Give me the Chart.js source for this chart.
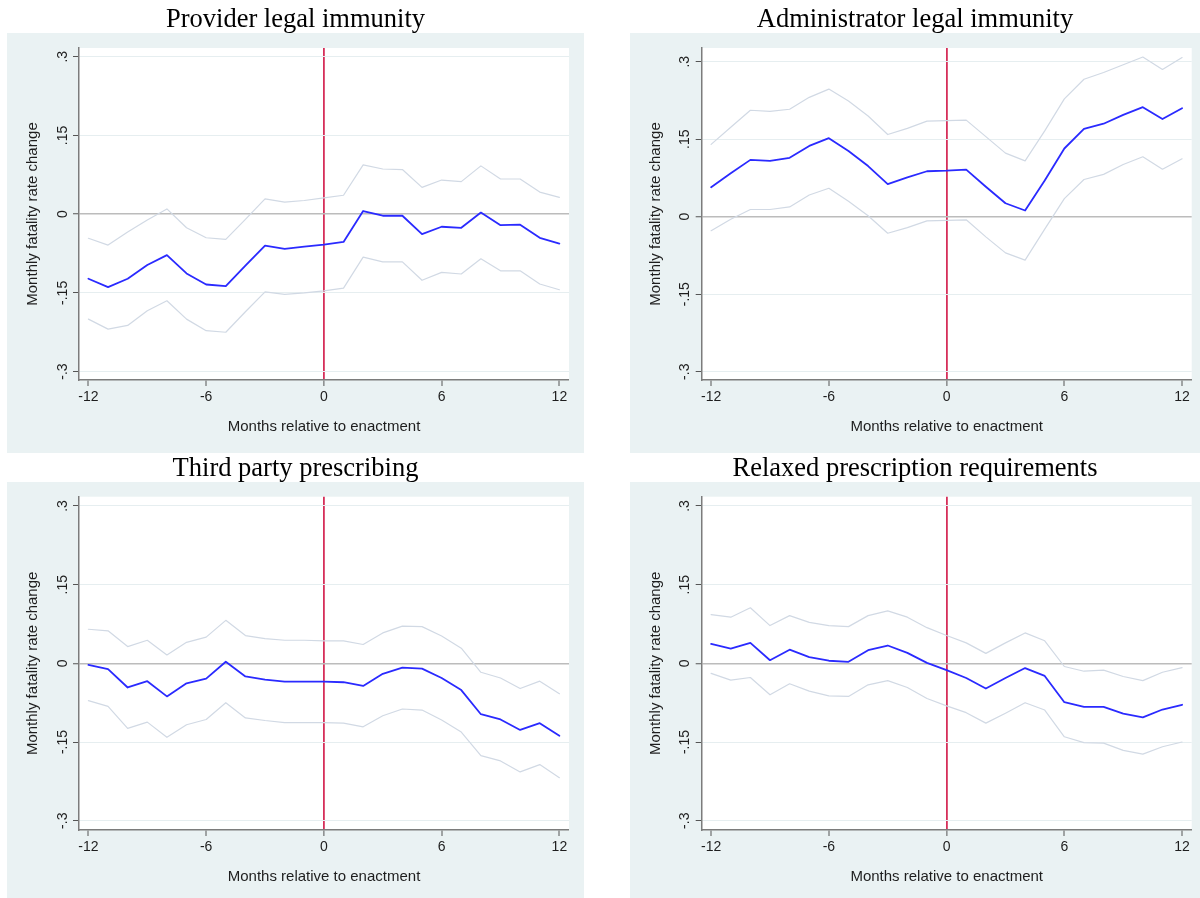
<!DOCTYPE html>
<html>
<head>
<meta charset="utf-8">
<script src="https://cdn.jsdelivr.net/npm/chart.js@4.4.1/dist/chart.umd.min.js"></script>
<style>
  html, body { margin: 0; padding: 0; background: #ffffff; }
  #wrap { position: relative; width: 1200px; height: 898px; overflow: hidden; }
  #wrap canvas { position: absolute; }
  .ttl {
    position: absolute;
    font-family: "Liberation Serif", "Times New Roman", serif;
    font-size: 26.5px;
    line-height: 1;
    color: #000;
    white-space: nowrap;
    transform: translateX(-50%);
  }
</style>
</head>
<body>
<div id="wrap"></div>
<script>
// Event-study estimates: months relative to enactment
const months = [-12, -11, -10, -9, -8, -7, -6, -5, -4, -3, -2, -1, 0, 1, 2, 3, 4, 5, 6, 7, 8, 9, 10, 11, 12];

const xTickValues = [-12, -6, 0, 6, 12];
const xTickLabels = ['-12', '-6', '0', '6', '12'];
const yTickValues = [-0.3, -0.15, 0, 0.15, 0.3];
const yTickLabels = ['-.3', '-.15', '0', '.15', '.3'];

const panelTitles = [
  'Provider legal immunity',
  'Administrator legal immunity',
  'Third party prescribing',
  'Relaxed prescription requirements'
];

// Provider legal immunity
const providerEst = [-0.123, -0.139, -0.123, -0.097, -0.078, -0.113, -0.134, -0.137, -0.098, -0.060, -0.066, -0.062, -0.058, -0.053, 0.006, -0.003, -0.003, -0.038, -0.024, -0.026, 0.003, -0.021, -0.020, -0.045, -0.056];
const providerHi  = [-0.046, -0.059, -0.034, -0.011, 0.010, -0.026, -0.045, -0.048, -0.010, 0.029, 0.023, 0.026, 0.031, 0.036, 0.094, 0.086, 0.085, 0.051, 0.065, 0.062, 0.092, 0.067, 0.067, 0.042, 0.032];
const providerLo  = [-0.200, -0.219, -0.212, -0.184, -0.165, -0.200, -0.222, -0.225, -0.186, -0.148, -0.153, -0.150, -0.146, -0.141, -0.082, -0.091, -0.091, -0.126, -0.111, -0.114, -0.085, -0.108, -0.108, -0.133, -0.144];

// Administrator legal immunity
const adminEst = [0.057, 0.084, 0.110, 0.108, 0.114, 0.137, 0.152, 0.127, 0.098, 0.063, 0.076, 0.088, 0.089, 0.091, 0.058, 0.026, 0.012, 0.070, 0.132, 0.170, 0.180, 0.197, 0.212, 0.189, 0.210];
const adminHi  = [0.140, 0.173, 0.206, 0.204, 0.208, 0.231, 0.247, 0.224, 0.195, 0.159, 0.171, 0.185, 0.186, 0.187, 0.155, 0.123, 0.108, 0.166, 0.228, 0.266, 0.279, 0.294, 0.309, 0.285, 0.308];
const adminLo  = [-0.027, -0.005, 0.014, 0.014, 0.019, 0.042, 0.055, 0.030, 0.002, -0.032, -0.021, -0.008, -0.007, -0.006, -0.039, -0.070, -0.084, -0.024, 0.035, 0.072, 0.082, 0.101, 0.116, 0.092, 0.112];

// Third party prescribing
const thirdEst = [-0.003, -0.011, -0.046, -0.034, -0.063, -0.038, -0.029, 0.003, -0.025, -0.031, -0.035, -0.035, -0.035, -0.036, -0.043, -0.020, -0.008, -0.010, -0.028, -0.051, -0.097, -0.107, -0.127, -0.114, -0.138];
const thirdHi  = [0.065, 0.062, 0.032, 0.044, 0.016, 0.040, 0.050, 0.082, 0.053, 0.047, 0.044, 0.044, 0.043, 0.043, 0.036, 0.058, 0.071, 0.070, 0.052, 0.029, -0.017, -0.028, -0.048, -0.034, -0.058];
const thirdLo  = [-0.071, -0.082, -0.124, -0.112, -0.141, -0.117, -0.107, -0.075, -0.104, -0.109, -0.113, -0.113, -0.113, -0.114, -0.121, -0.100, -0.087, -0.089, -0.108, -0.131, -0.176, -0.186, -0.207, -0.193, -0.218];

// Relaxed prescription requirements
const relaxedEst = [0.037, 0.028, 0.039, 0.006, 0.026, 0.012, 0.005, 0.003, 0.025, 0.034, 0.020, 0.001, -0.013, -0.028, -0.048, -0.028, -0.009, -0.024, -0.074, -0.083, -0.083, -0.096, -0.103, -0.088, -0.079];
const relaxedHi  = [0.093, 0.088, 0.106, 0.072, 0.091, 0.078, 0.072, 0.070, 0.091, 0.100, 0.088, 0.068, 0.053, 0.039, 0.019, 0.039, 0.058, 0.043, -0.006, -0.015, -0.013, -0.025, -0.033, -0.017, -0.008];
const relaxedLo  = [-0.019, -0.032, -0.027, -0.060, -0.039, -0.053, -0.062, -0.063, -0.041, -0.033, -0.046, -0.067, -0.081, -0.094, -0.114, -0.095, -0.075, -0.089, -0.140, -0.151, -0.152, -0.166, -0.173, -0.159, -0.150];

const xAxisTitle = 'Months relative to enactment';
const yAxisTitle = 'Monthly fatality rate change';

// Styling
const REGION_BG = '#eaf2f3';
const GRID = '#e6eef0';
const ZERO_LINE = '#bcbcbc';
const ENACT_LINE = '#d62f5a';
const AXIS = '#7c7c7c';
const TICK = '#555555';
const EST_COLOR = '#2a2aff';
const CI_COLOR = '#d1d9e4';
const SANS = '"Liberation Sans", Arial, sans-serif';
const Y_AXIS_W = 79;
const X_AXIS_H = 60;

// Canvas placement, plot area and shaded region (canvas-local px)
const panels = [
  { title: panelTitles[0], est: providerEst, hi: providerHi, lo: providerLo,
    left: 0, top: 0, w: 600, h: 455, area: { l: 79, r: 569, t: 48, b: 380 },
    box: { x: 7, y: 33, w: 577, h: 420 }, ymin: -0.316, ymax: 0.3166, titleBase: 27.5 },
  { title: panelTitles[1], est: adminEst, hi: adminHi, lo: adminLo,
    left: 600, top: 0, w: 600, h: 455, area: { l: 101.7, r: 591.7, t: 48, b: 380 },
    box: { x: 30, y: 33, w: 570, h: 420 }, ymin: -0.316, ymax: 0.3265, titleBase: 27.5 },
  { title: panelTitles[2], est: thirdEst, hi: thirdHi, lo: thirdLo,
    left: 0, top: 455, w: 600, h: 443, area: { l: 79, r: 569, t: 41.7, b: 375 },
    box: { x: 7, y: 27, w: 577, h: 416 }, ymin: -0.3177, ymax: 0.3177, titleBase: 21.5 },
  { title: panelTitles[3], est: relaxedEst, hi: relaxedHi, lo: relaxedLo,
    left: 600, top: 455, w: 600, h: 443, area: { l: 101.7, r: 591.7, t: 41.7, b: 375 },
    box: { x: 30, y: 27, w: 570, h: 416 }, ymin: -0.3177, ymax: 0.3177, titleBase: 21.5 }
];

// Shaded graph region and white plot region behind everything
const regionPlugin = {
  id: 'region',
  beforeDraw(chart, args, opts) {
    const { ctx, chartArea } = chart;
    const b = opts.box;
    ctx.save();
    ctx.fillStyle = REGION_BG;
    ctx.fillRect(b.x, b.y, b.w, b.h);
    ctx.fillStyle = '#ffffff';
    ctx.fillRect(chartArea.left, chartArea.top, chartArea.right - chartArea.left, chartArea.bottom - chartArea.top);
    ctx.restore();
  }
};

const wrap = document.getElementById('wrap');

function series(values) {
  return months.map((m, i) => ({ x: m, y: values[i] }));
}

panels.forEach(p => {
  const cv = document.createElement('canvas');
  cv.width = p.w;
  cv.height = p.h;
  cv.style.left = p.left + 'px';
  cv.style.top = p.top + 'px';
  wrap.appendChild(cv);

  const t = document.createElement('div');
  t.className = 'ttl';
  t.textContent = p.title;
  t.style.left = (p.left + p.box.x + p.box.w / 2) + 'px';
  t.style.top = (p.top + p.titleBase - 22.2) + 'px';
  wrap.appendChild(t);

  const a = p.area;
  new Chart(cv, {
    type: 'line',
    data: {
      datasets: [
        { data: series(p.hi), borderColor: CI_COLOR, borderWidth: 1.2 },
        { data: series(p.lo), borderColor: CI_COLOR, borderWidth: 1.2 },
        { data: series(p.est), borderColor: EST_COLOR, borderWidth: 1.8 }
      ]
    },
    options: {
      responsive: false,
      animation: false,
      devicePixelRatio: 1,
      layout: {
        padding: { left: a.l - Y_AXIS_W, right: p.w - a.r, top: a.t, bottom: p.h - a.b - X_AXIS_H }
      },
      elements: {
        point: { radius: 0, hoverRadius: 0 },
        line: { tension: 0, fill: false, borderCapStyle: 'round', borderJoinStyle: 'round' }
      },
      plugins: {
        legend: { display: false },
        tooltip: { enabled: false },
        title: { display: false },
        region: { box: p.box }
      },
      events: [],
      scales: {
        x: {
          type: 'linear',
          min: -12.48,
          max: 12.49,
          afterBuildTicks: s => { s.ticks = xTickValues.map(v => ({ value: v })); },
          afterFit: s => { s.height = X_AXIS_H; },
          grid: {
            drawOnChartArea: true,
            color: c => (c.tick && c.tick.value === 0) ? ENACT_LINE : 'rgba(0,0,0,0)',
            lineWidth: c => (c.tick && c.tick.value === 0) ? 1.8 : 0,
            tickColor: TICK,
            tickLength: 6,
            tickWidth: 1
          },
          border: { display: true, color: AXIS, width: 1.5 },
          ticks: {
            autoSkip: false,
            maxRotation: 0,
            padding: 3,
            color: '#1e1e1e',
            font: { family: SANS, size: 14 },
            callback: (v, i) => xTickLabels[i]
          },
          title: {
            display: true,
            text: xAxisTitle,
            color: '#1e1e1e',
            font: { family: SANS, size: 15 },
            padding: { top: 0, bottom: 4 }
          }
        },
        y: {
          type: 'linear',
          min: p.ymin,
          max: p.ymax,
          afterBuildTicks: s => { s.ticks = yTickValues.map(v => ({ value: v })); },
          afterFit: s => { s.width = Y_AXIS_W; },
          grid: {
            color: c => (c.tick && c.tick.value === 0) ? ZERO_LINE : GRID,
            lineWidth: c => (c.tick && c.tick.value === 0) ? 1.5 : 1,
            tickColor: TICK,
            tickLength: 6,
            tickWidth: 1
          },
          border: { display: true, color: AXIS, width: 1.5 },
          ticks: {
            autoSkip: false,
            minRotation: 90,
            maxRotation: 90,
            crossAlign: 'center',
            padding: -2,
            color: '#1e1e1e',
            font: { family: SANS, size: 14 },
            callback: (v, i) => yTickLabels[i]
          },
          title: {
            display: true,
            text: yAxisTitle,
            color: '#1e1e1e',
            font: { family: SANS, size: 15 },
            padding: { top: 24, bottom: 0 }
          }
        }
      }
    },
    plugins: [regionPlugin]
  });
});
</script>
</body>
</html>
